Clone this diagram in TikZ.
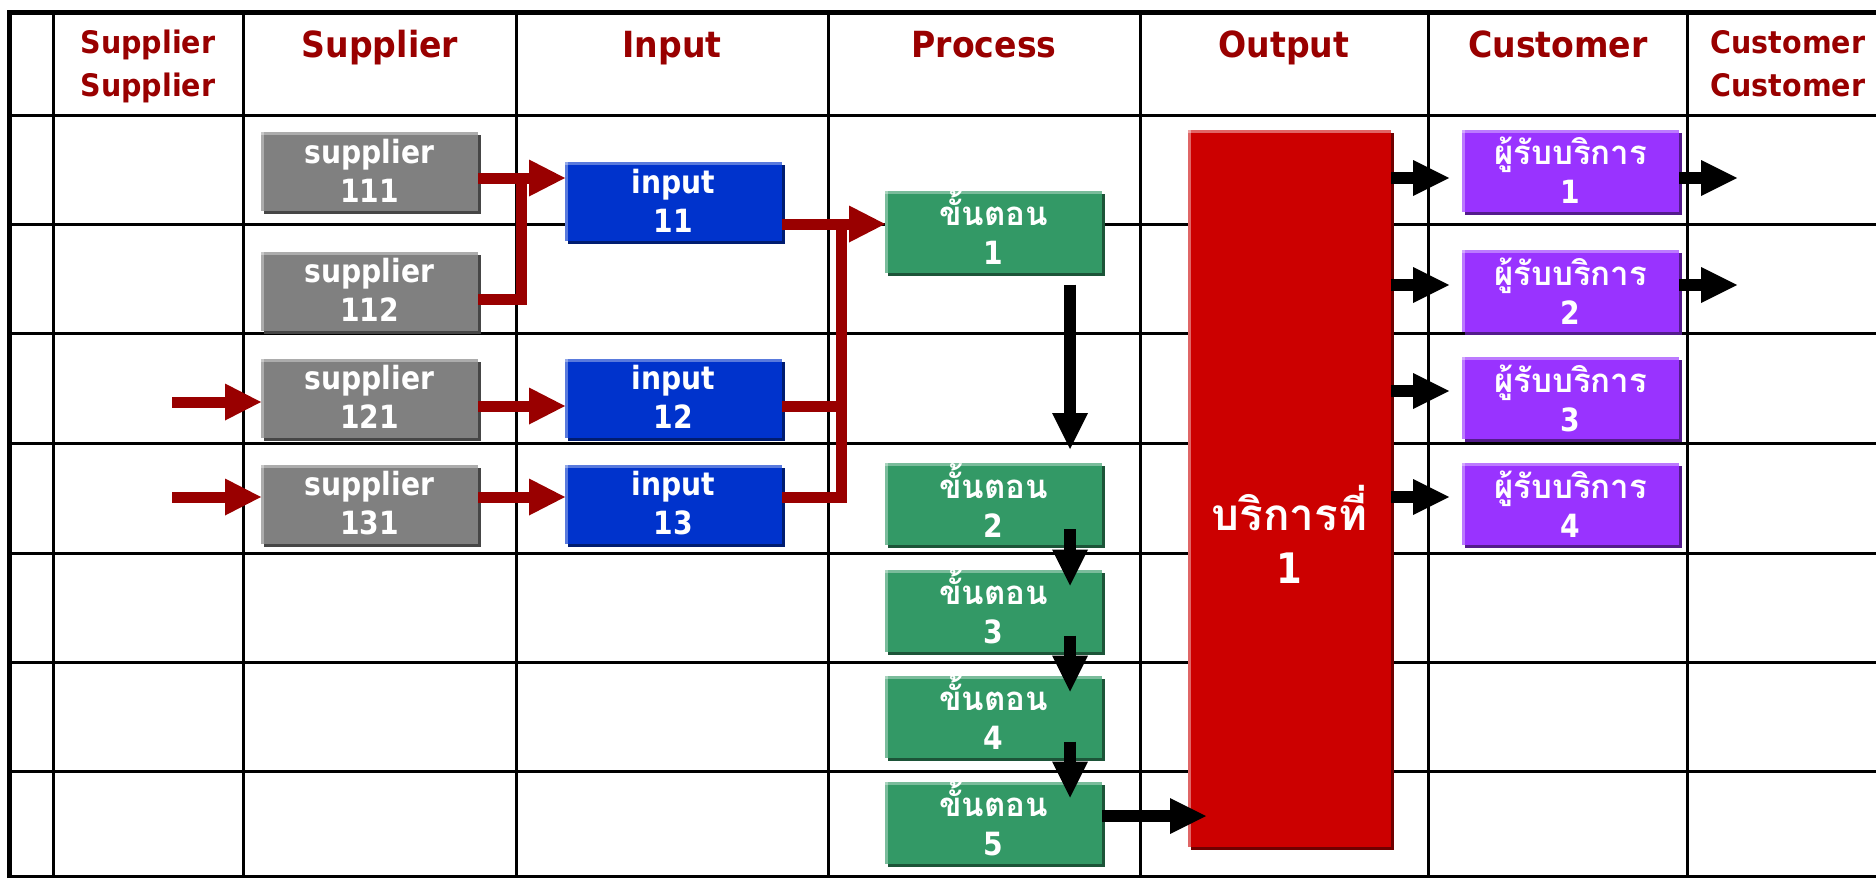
\documentclass[tikz,border=0pt]{standalone}
\usepackage{fontspec}
\setmainfont{DejaVu Sans}
\newfontfamily\narrowfont{DejaVu Sans}[FakeStretch=0.88]
\newfontfamily\hdrfont{DejaVu Sans}[FakeStretch=0.92]
\newfontfamily\thaifont[Script=Thai]{Loma}
\usetikzlibrary{arrows.meta}
\definecolor{hdr}{HTML}{990000}
\definecolor{arrowred}{HTML}{990000}
\definecolor{graybox}{HTML}{808080}
\definecolor{bluebox}{HTML}{0033CC}
\definecolor{greenbox}{HTML}{339966}
\definecolor{redbox}{HTML}{CC0000}
\definecolor{purplebox}{HTML}{9933FF}
\newcommand{\thaiboxtext}[1]{{\thaifont\fontsize{33}{39}\selectfont #1}}
\begin{document}
\begin{tikzpicture}[x=1pt,y=-1pt,
  gridline/.style={line width=3pt, black},
  borderline/.style={line width=5pt, black},
  hdrone/.style={text=hdr, font=\hdrfont\fontsize{36}{40}\selectfont\bfseries, anchor=base, inner sep=0pt},
  hdrtwo/.style={text=hdr, font=\hdrfont\fontsize{31}{43}\selectfont\bfseries, align=center, inner sep=0pt,
    text height=73pt, text depth=8pt},
  colbox/.style={minimum width=217pt, minimum height=79pt, inner sep=0pt, outer sep=0pt,
    text=white, align=center, font=\narrowfont\fontsize{32}{39}\selectfont\bfseries, fill=#1,
    preaction={fill=#1!55!black, transform canvas={shift={(3pt,-3pt)}}},
    path picture={
      \fill[white,opacity=.35] ([yshift=-3pt]path picture bounding box.north west) rectangle (path picture bounding box.north east);
      \fill[white,opacity=.35] (path picture bounding box.north west) rectangle ([xshift=3pt]path picture bounding box.south west);},
    text height=69pt, text depth=8pt},
  thaibox/.style={text height=74pt},
  redarrow/.style={draw=arrowred, line width=11pt, -{Triangle[length=36pt,width=37pt,line width=0pt]}},
  redline/.style={draw=arrowred, line width=11pt, line join=miter},
  blackarrow/.style={draw=black, line width=12pt, -{Triangle[length=36pt,width=36pt,line width=0pt]}}
]
\useasboundingbox (0,0) rectangle (1876,878);
% grid
\foreach \x in {53,243,516,828,1140,1428,1687} \draw[gridline] (\x,13) -- (\x,877);
\foreach \y in {115,224,333,443,553,662,771,876} \draw[gridline] (9,\y) -- (1876,\y);
\draw[borderline] (9.5,878) -- (9.5,12.5) -- (1876,12.5);

% headers
\node[hdrtwo] (hss) at (148,63.5) {Supplier\\Supplier};
\node[hdrone] (hsup) at (380,57) {Supplier};
\node[hdrone] (hin) at (672,57) {Input};
\node[hdrone] (hproc) at (984,57) {Process};
\node[hdrone] (hout) at (1284,57) {Output};
\node[hdrone] (hcus) at (1558,57) {Customer};
\node[hdrtwo] (hcc) at (1788,63.5) {Customer\\Customer};

% suppliers
\node[colbox=graybox] (s111) at (369.5,171.5) {supplier\\111};
\node[colbox=graybox] (s112) at (369.5,291) {supplier\\112};
\node[colbox=graybox] (s121) at (369.5,398) {supplier\\121};
\node[colbox=graybox] (s131) at (369.5,504) {supplier\\131};
% inputs
\node[colbox=bluebox] (i11) at (673.5,201.5) {input\\11};
\node[colbox=bluebox] (i12) at (673.5,398) {input\\12};
\node[colbox=bluebox] (i13) at (673.5,504) {input\\13};
% process
\node[colbox=greenbox, thaibox] (p1) at (993.5,231.5) {\thaiboxtext{ขั้นตอน}\\1};
\node[colbox=greenbox, thaibox] (p2) at (993.5,504) {\thaiboxtext{ขั้นตอน}\\2};
\node[colbox=greenbox, thaibox] (p3) at (993.5,610.5) {\thaiboxtext{ขั้นตอน}\\3};
\node[colbox=greenbox, thaibox] (p4) at (993.5,716.5) {\thaiboxtext{ขั้นตอน}\\4};
\node[colbox=greenbox, thaibox] (p5) at (993.5,822.5) {\thaiboxtext{ขั้นตอน}\\5};
% output
\node[fill=redbox, minimum width=203pt, minimum height=717pt, inner sep=0pt, outer sep=0pt,
  preaction={fill=redbox!55!black, transform canvas={shift={(3pt,-3pt)}}},
  path picture={
      \fill[white,opacity=.4] ([yshift=-3pt]path picture bounding box.north west) rectangle (path picture bounding box.north east);
      \fill[white,opacity=.4] (path picture bounding box.north west) rectangle ([xshift=3pt]path picture bounding box.south west);}]
  (red) at (1289.5,488.5) {};
\node[text=white, align=center, font=\narrowfont\fontsize{42}{53}\selectfont\bfseries, inner sep=0pt,
  text height=95pt, text depth=10pt]
  (redtxt) at (1289.5,540.5) {{\thaifont\fontsize{44}{53}\selectfont บริการที่}\\1};
% customers
\node[colbox=purplebox, thaibox] (c1) at (1570.5,170.5) {\thaiboxtext{ผู้รับบริการ}\\1};
\node[colbox=purplebox, thaibox] (c2) at (1570.5,291) {\thaiboxtext{ผู้รับบริการ}\\2};
\node[colbox=purplebox, thaibox] (c3) at (1570.5,398) {\thaiboxtext{ผู้รับบริการ}\\3};
\node[colbox=purplebox, thaibox] (c4) at (1570.5,504) {\thaiboxtext{ผู้รับบริการ}\\4};

% helper coordinates
\coordinate (y178) at (0,178);
\coordinate (y224) at (0,224);
\coordinate (y285) at (0,285);
\coordinate (y299) at (0,299);
\coordinate (y391) at (0,391);
\coordinate (y406) at (0,406);
\coordinate (y497) at (0,497);
\coordinate (y816) at (0,816);
\coordinate (ax) at (1070,0);
\coordinate (j1) at (521,178);
\coordinate (j2) at (841,224);
\coordinate (in121) at (172,402);
\coordinate (in131) at (172,497);
\coordinate (out1) at (1737,178);
\coordinate (out2) at (1737,285);

% red connectors
\draw[redline] (s112.east |- y299) -| (j1);
\draw[redarrow] (s111.east |- y178) -- (i11.west |- y178);
\draw[redline] (i13.east |- y497) -| (j2);
\draw[redline] (i12.east |- y406) -- (j2 |- y406);
\draw[redarrow] (i11.east |- y224) -- (p1.west |- y224);
\draw[redarrow] (in121) -- (s121.west |- in121);
\draw[redarrow] (in131) -- (s131.west |- in131);
\draw[redarrow] (s121.east |- y406) -- (i12.west |- y406);
\draw[redarrow] (s131.east |- y497) -- (i13.west |- y497);

% black connectors
\draw[blackarrow, shorten <=12pt, shorten >=14pt] (p1.south -| ax) -- (p2.north -| ax);
\draw[blackarrow, shorten <=-16pt, shorten >=-16pt] (p2.south -| ax) -- (p3.north -| ax);
\draw[blackarrow, shorten <=-16pt, shorten >=-16pt] (p3.south -| ax) -- (p4.north -| ax);
\draw[blackarrow, shorten <=-16pt, shorten >=-16pt] (p4.south -| ax) -- (p5.north -| ax);
\draw[blackarrow, shorten >=-18pt] (p5.east |- y816) -- (red.west |- y816);
\draw[blackarrow, shorten >=13pt] (red.east |- y178) -- (c1.west |- y178);
\draw[blackarrow, shorten >=13pt] (red.east |- y285) -- (c2.west |- y285);
\draw[blackarrow, shorten >=13pt] (red.east |- y391) -- (c3.west |- y391);
\draw[blackarrow, shorten >=13pt] (red.east |- y497) -- (c4.west |- y497);
\draw[blackarrow] (c1.east |- y178) -- (out1);
\draw[blackarrow] (c2.east |- y285) -- (out2);
\end{tikzpicture}
\end{document}
